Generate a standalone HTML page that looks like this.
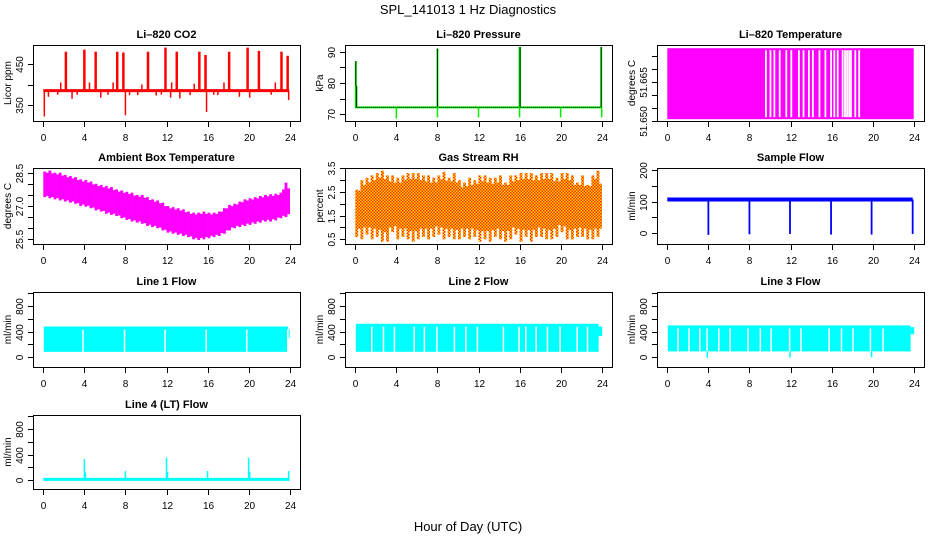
<!DOCTYPE html>
<html><head><meta charset="utf-8"><style>
html,body{margin:0;padding:0;background:#fff;}
svg{display:block;font-family:"Liberation Sans",sans-serif;}
</style></head><body>
<svg id="c" width="936" height="540" xmlns="http://www.w3.org/2000/svg">
<defs>
<pattern id="rhpat" width="3" height="3" patternUnits="userSpaceOnUse">
<rect width="3" height="3" fill="#ffd400"/><rect x="0" y="0" width="1.5" height="1.5" fill="#ff2a00"/><rect x="1.5" y="1.5" width="1.5" height="1.5" fill="#ff2a00"/>
</pattern>
</defs>
<text x="468" y="14" text-anchor="middle" font-size="13">SPL_141013  1 Hz Diagnostics</text>
<text x="468" y="531" text-anchor="middle" font-size="13">Hour of Day (UTC)</text>
</svg>
<script>
// ---------- data ----------
const xTicks=[0,4,8,12,16,20,24];
const co2Base=385;
const co2SpikeT=[2.2,4.0,5.1,7.2,7.8,10.2,11.9,13.0,15.2,15.8,18.1,19.9,21.0,23.2,23.8,1.7,4.5,6.8,9.6,12.5,14.7,17.6,22.6];
const co2SpikeV=[480,485,480,480,478,480,490,480,480,472,480,490,482,480,470,405,405,405,400,405,402,405,405];
const co2DipT=[0.1,0.5,1.4,2.8,3.3,5.6,6.3,8.0,8.4,9.2,11.0,11.5,12.4,13.3,14.3,15.9,16.6,17.0,19.1,20.1,22.2,23.9];
const co2DipV=[322,370,375,365,375,368,375,325,374,374,373,375,368,366,374,333,375,374,370,368,375,362];
const presBase=72.2;
const presSpikeT=[0.05,0.12,8.0,16.0,16.05,23.95];
const presSpikeV=[87,79,91,91.5,91.5,91.5];
const presDipT=[4.0,8.0,12.0,16.0,20.0,24.0];
const presDipV=[68.7,69,69,69,69,69];
const tempHi=51.678, tempLo=51.6507;
const tempGapT=[9.6,10.04,10.42,10.94,11.58,12.07,12.81,13.26,13.78,14.17,14.81,15.39,15.94,16.26,16.59,17.07,17.3,17.5,17.7,17.88,18.3,18.68];
const ambT=[0,0.5,1,1.5,2,2.5,3,3.5,4,4.5,5,5.5,6,6.5,7,7.5,8,8.5,9,9.5,10,10.5,11,11.5,12,12.5,13,13.5,14,14.5,15,15.5,16,16.5,17,17.5,18,18.5,19,19.5,20,20.5,21,21.5,22,22.5,23,23.5,24];
const ambHi=[28.55,28.6,28.5,28.5,28.4,28.35,28.3,28.2,28.17,28.1,28.0,27.95,27.9,27.85,27.75,27.7,27.64,27.6,27.5,27.5,27.4,27.3,27.25,27.15,27.0,26.95,26.9,26.85,26.75,26.7,26.7,26.75,26.7,26.7,26.75,26.9,27.05,27.1,27.2,27.3,27.35,27.4,27.45,27.5,27.53,27.55,27.6,28.05,27.7];
const ambLo=[27.4,27.35,27.3,27.25,27.2,27.15,27.1,27.0,26.97,26.9,26.8,26.75,26.65,26.6,26.55,26.45,26.37,26.3,26.25,26.2,26.1,26.05,26.0,25.9,25.8,25.75,25.7,25.65,25.6,25.5,25.47,25.5,25.55,25.6,25.65,25.75,25.9,26.0,26.05,26.1,26.15,26.2,26.25,26.3,26.3,26.35,26.45,26.5,26.6];
const rhT=[0,0.5,1,1.5,2,2.5,3,3.5,4,4.5,5,5.5,6,6.5,7,7.5,8,8.5,9,9.5,10,10.5,11,11.5,12,12.5,13,13.5,14,14.5,15,15.5,16,16.5,17,17.5,18,18.5,19,19.5,20,20.5,21,21.5,22,22.5,23,23.5,24];
const rhHi=[2.6,3.0,3.1,3.2,3.3,3.4,3.2,3.2,3.1,3.2,3.3,3.3,3.3,3.2,3.2,3.1,3.2,3.35,3.1,3.3,3.0,2.9,3.1,3.0,3.2,3.2,3.1,3.1,3.2,2.9,3.2,3.2,3.3,3.3,3.3,3.2,3.3,3.3,3.3,3.1,3.3,3.3,3.2,2.9,3.2,2.8,3.2,3.4,2.8];
const rhLo=[0.6,0.5,0.7,0.5,0.6,0.4,0.4,0.8,0.5,0.6,0.5,0.4,0.5,0.6,0.5,0.6,0.7,0.5,0.6,0.5,0.5,0.6,0.5,0.6,0.4,0.5,0.4,0.6,0.5,0.4,0.5,0.7,0.4,0.6,0.4,0.6,0.6,0.5,0.5,0.6,0.8,0.5,0.5,0.6,0.6,0.5,0.5,0.6,0.5];
const sfBase=107;
const sfDipT=[4.0,8.0,11.95,15.95,19.9,23.9];
const sfDipV=[-6,-4,-3,-5,-5,-3];
const l1Hi=480, l1Lo=85;
const l1GapT=[3.85,7.9,11.85,15.85,19.8,23.8];
const l2Hi=523, l2Lo=86;
const l2GapT=[1.59,2.73,3.8,5.72,6.72,7.93,9.64,10.75,11.88,14.41,15.94,16.59,17.6,18.7,19.93,21.6,22.6];
const l3Hi=497, l3Lo=92;
const l3GapT=[1.03,2.1,3.15,3.86,5.0,6.1,7.85,9.05,10.1,11.9,13.0,15.75,16.95,18.07,19.77,21.0];
const l3DipT=[3.9,11.95,19.9];
const l3DipV=[-10,-5,0];
const l4Base=10;
const l4SpikeT=[4.0,4.1,8.0,12.0,12.1,16.0,20.0,20.1,23.9];
const l4SpikeV=[330,120,140,350,130,140,350,130,140];

// ---------- layout ----------
const NS="http://www.w3.org/2000/svg";
const svg=document.getElementById('c');
const colL=[33,345,657], boxW=267;
const rowT=[45,168,292,415], rowB=[121,244,367,489];
function el(tag,attrs,parent){const e=document.createElementNS(NS,tag);for(const k in attrs)e.setAttribute(k,attrs[k]);(parent||svg).appendChild(e);return e;}
function xs(c,t){return colL[c]+10.3+t*(246.4/24);}
function mkY(v0,p0,v1,p1){return v=>p0+(v-v0)*(p1-p0)/(v1-v0);}

function panel(name,c,r,title,ylab,ys,yt,yl,ymaxAxis){
  const g=el('g',{});
  
  
  const L=colL[c],T=rowT[r],B=rowB[r];
  const t=el('text',{x:L+boxW/2,y:T-7,'text-anchor':'middle','font-size':'11','font-weight':'bold'},g);
  t.textContent=title;
  
  
  const data=el('g',{},g);
  
  
  const ax=el('g',{stroke:'#000','stroke-width':'1',fill:'none'},g);
  
  
  el('rect',{x:L+0.5,y:T+0.5,width:boxW,height:B-T},ax);
  el('line',{x1:xs(c,0),x2:xs(c,24),y1:B+0.5,y2:B+0.5},ax);
  xTicks.forEach(v=>{
    const x=Math.round(xs(c,v))+0.5;
    el('line',{x1:x,x2:x,y1:B,y2:B+6},ax);
    const tl=el('text',{x:x,y:B+20,'text-anchor':'middle','font-size':'10',fill:'#000',stroke:'none'},g);
    tl.textContent=v;
    
    
  });
  const yTop=ys(ymaxAxis!==undefined?ymaxAxis:yt[yt.length-1]);
  el('line',{x1:L+0.5,x2:L+0.5,y1:ys(yt[0]),y2:yTop},ax);
  yt.forEach((v,i)=>{
    const y=Math.round(ys(v))+0.5;
    el('line',{x1:L-5,x2:L,y1:y,y2:y},ax);
    if(yl[i]!==''){
      const tl=el('text',{x:0,y:0,transform:`translate(${L-10},${y}) rotate(-90)`,'text-anchor':'middle','font-size':'10',fill:'#000',stroke:'none'},g);
      tl.textContent=yl[i];
      
      
    }
  });
  const yl2=el('text',{x:0,y:0,transform:`translate(${L-22},${(T+B)/2}) rotate(-90)`,'text-anchor':'middle','font-size':'10',fill:'#000'},g);
  yl2.textContent=ylab;
  
  
  return data;
}
function vline(g,x,y1,y2,col,w){el('line',{x1:x,x2:x,y1:y1,y2:y2,stroke:col,'stroke-width':w||1.5},g);}
function band(g,c,ys,t0,t1,lo,hi,col){el('rect',{x:xs(c,t0),y:ys(hi),width:xs(c,t1)-xs(c,t0),height:ys(lo)-ys(hi),fill:col},g);}

// CO2
let ys=mkY(350,105,450,64);
let g=panel('co2',0,0,'Li\u2013820 CO2','Licor ppm',ys,[350,400,450],['350','','450']);
el('line',{x1:xs(0,0),x2:xs(0,23.95),y1:ys(co2Base),y2:ys(co2Base),stroke:'#ff0000','stroke-width':3},g);
co2SpikeT.forEach((t,i)=>vline(g,xs(0,t),ys(co2Base),ys(co2SpikeV[i]),'#ff0000',co2SpikeV[i]>450?2.5:1.5));
co2DipT.forEach((t,i)=>vline(g,xs(0,t),ys(co2Base),ys(co2DipV[i]),'#ff0000',1.5));

// Pressure
ys=mkY(70,114.3,90,51.7);
g=panel('pressure',1,0,'Li\u2013820 Pressure','kPa',ys,[70,75,80,85,90],['70','','80','','90']);
el('line',{x1:xs(1,0),x2:xs(1,24),y1:ys(presBase),y2:ys(presBase),stroke:'#00ee00','stroke-width':2},g);
el('line',{x1:xs(1,0),x2:xs(1,24),y1:ys(presBase),y2:ys(presBase),stroke:'#000','stroke-width':1,'stroke-dasharray':'1,1'},g);
presSpikeT.forEach((t,i)=>{vline(g,xs(1,t),ys(presBase),ys(presSpikeV[i]),'#00ee00',2);vline(g,xs(1,t),ys(presBase),ys(presSpikeV[i]),'#000',0.8);});
presDipT.forEach((t,i)=>vline(g,xs(1,t),ys(presBase),ys(presDipV[i]),'#00ee00',1.5));

// Li-820 temperature
ys=mkY(51.650,121,51.675,56);
g=panel('li820-temp',2,0,'Li\u2013820 Temperature','degrees C',ys,[51.650,51.655,51.660,51.665,51.670,51.675],['51.650','','','51.665','','']);
band(g,2,ys,0,24,tempLo,tempHi,'#ff00ff');
tempGapT.forEach(t=>el('rect',{x:xs(2,t)-0.8,y:ys(tempHi)+2,width:1.8,height:ys(tempLo)-ys(tempHi)-4,fill:'#fff'},g));

// Ambient
ys=mkY(25.5,239.3,28.5,172.7);
g=panel('ambient-temp',0,1,'Ambient Box Temperature','degrees C',ys,[25.5,26,26.5,27,27.5,28,28.5],['25.5','','','27.0','','','28.5']);
ambT.forEach((t,i)=>{if(i<ambT.length-1){const x0=xs(0,t),x1=xs(0,ambT[i+1]);
  el('rect',{x:x0,y:ys(ambHi[i]),width:(x1-x0)/2+0.3,height:ys(ambLo[i])-ys(ambHi[i]),fill:'#ff00ff'},g);
  el('rect',{x:(x0+x1)/2,y:ys((ambHi[i]+ambHi[i+1])/2-0.08),width:(x1-x0)/2+0.3,height:ys((ambLo[i]+ambLo[i+1])/2+0.08)-ys((ambHi[i]+ambHi[i+1])/2-0.08),fill:'#ff00ff'},g);}});

// RH
ys=mkY(0.5,239.3,3.5,168.3);
g=panel('gas-rh',1,1,'Gas Stream RH','percent',ys,[0.5,1,1.5,2,2.5,3,3.5],['0.5','','1.5','','2.5','','3.5']);
rhT.forEach((t,i)=>{if(i<rhT.length-1){const x0=xs(1,t),x1=xs(1,rhT[i+1]);
  el('rect',{x:x0,y:ys(rhHi[i]),width:(x1-x0)/2+0.3,height:ys(rhLo[i])-ys(rhHi[i]),fill:'url(#rhpat)'},g);
  el('rect',{x:(x0+x1)/2,y:ys((rhHi[i]+rhHi[i+1])/2-0.25),width:(x1-x0)/2+0.3,height:ys((rhLo[i]+rhLo[i+1])/2+0.4)-ys((rhHi[i]+rhHi[i+1])/2-0.25),fill:'url(#rhpat)'},g);}});

// Sample flow
ys=mkY(0,233,200,170.3);
g=panel('sample-flow',2,1,'Sample Flow','ml/min',ys,[0,50,100,150,200],['0','','100','','200']);
el('line',{x1:xs(2,0),x2:xs(2,23.9),y1:ys(sfBase),y2:ys(sfBase),stroke:'#0000ff','stroke-width':4},g);
sfDipT.forEach((t,i)=>vline(g,xs(2,t),ys(sfBase),ys(sfDipV[i]),'#0000ff',1.8));

// Line flows
function lineBand(name,c,r,title,hi,lo,gaps,t1){
  const y=mkY(0,357.3,800,306);
  const gg=panel(name,c,r,title,'ml/min',y,[0,200,400,600,800,1000],['0','','400','','800',''],1000);
  band(gg,c,y,0.05,t1,lo,hi,'#00ffff');
  gaps.forEach(t=>el('rect',{x:xs(c,t)-0.6,y:y(hi)+3,width:1.5,height:y(lo)-y(hi)-3,fill:'#fff'},gg));
  return gg;
}
const yl=mkY(0,357.3,800,306);
let g1=lineBand('line1-flow',0,2,'Line 1 Flow',l1Hi,l1Lo,l1GapT,23.85);
band(g1,0,yl,23.9,24,300,430,'#00ffff');
let g2=lineBand('line2-flow',1,2,'Line 2 Flow',l2Hi,l2Lo,l2GapT,23.7);
band(g2,1,yl,23.7,24.05,330,480,'#00ffff');
let g3=lineBand('line3-flow',2,2,'Line 3 Flow',l3Hi,l3Lo,l3GapT,23.7);
band(g3,2,yl,23.7,24.05,360,470,'#00ffff');
l3DipT.forEach((t,i)=>vline(g3,xs(2,t),yl(l3Lo),yl(l3DipV[i]),'#00ffff',1.5));

// Line 4
ys=mkY(0,480,800,429);
g=panel('line4-flow',0,3,'Line 4 (LT) Flow','ml/min',ys,[0,200,400,600,800,1000],['0','','400','','800',''],1000);
el('line',{x1:xs(0,0),x2:xs(0,24),y1:ys(l4Base),y2:ys(l4Base),stroke:'#00ffff','stroke-width':3},g);
l4SpikeT.forEach((t,i)=>vline(g,xs(0,t),ys(l4Base),ys(l4SpikeV[i]),'#00ffff',1.5));
</script>
</body></html>
